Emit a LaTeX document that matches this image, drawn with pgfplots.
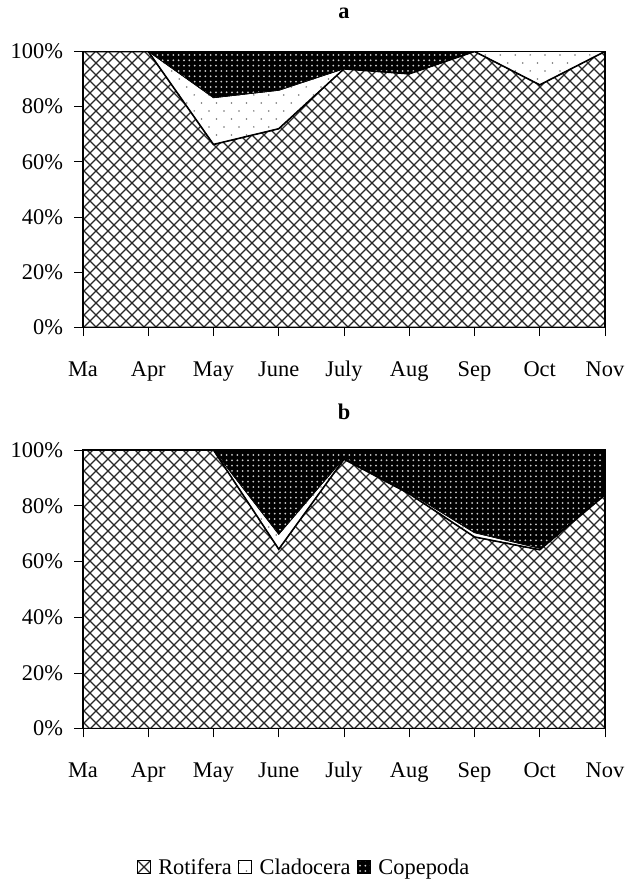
\documentclass[border=0pt]{standalone}
\usepackage{fontspec}
\setmainfont{Liberation Serif}
\usepackage{pgfplots}
\usepackage{pgfplotstable}
\pgfplotsset{compat=1.18}
\usetikzlibrary{patterns}

% diagonal crosshatch (Rotifera)
\pgfdeclarepatternformonly{diagcross}{\pgfqpoint{-1pt}{-1pt}}{\pgfqpoint{10pt}{10pt}}{\pgfqpoint{9pt}{9pt}}{%
  \pgfsetlinewidth{0.85pt}%
  \pgfpathmoveto{\pgfqpoint{0pt}{0pt}}\pgfpathlineto{\pgfqpoint{9pt}{9pt}}%
  \pgfpathmoveto{\pgfqpoint{0pt}{9pt}}\pgfpathlineto{\pgfqpoint{9pt}{0pt}}%
  \pgfusepath{stroke}}
% sparse staggered dots (Cladocera)
\pgfdeclarepatternformonly{sparsedots}{\pgfqpoint{-1pt}{-1pt}}{\pgfqpoint{12pt}{13pt}}{\pgfqpoint{11.2pt}{12pt}}{%
  \pgfpathcircle{\pgfqpoint{0pt}{0pt}}{0.65pt}%
  \pgfpathcircle{\pgfqpoint{5.6pt}{6pt}}{0.65pt}%
  \pgfusepath{fill}}
% dense dots (Copepoda, on black)
\pgfdeclarepatternformonly{densedots}{\pgfqpoint{-1pt}{-1pt}}{\pgfqpoint{5pt}{5pt}}{\pgfqpoint{4pt}{4pt}}{%
  \pgfpathcircle{\pgfqpoint{2pt}{2pt}}{0.75pt}%
  \pgfusepath{fill}}

\pgfplotstableread{
x rot clad cop
0 100 0 0
1 100 0 0
2 66.3 16.9 16.8
3 72.0 13.9 14.1
4 93.7 0 6.3
5 91.9 0 8.1
6 100 0 0
7 87.9 12.1 0
8 100 0 0
}\dataA

\pgfplotstableread{
x rot clad cop
0 100 0 0
1 100 0 0
2 100 0 0
3 64.4 5.3 30.3
4 96.7 0.4 2.9
5 84.3 0.4 15.3
6 68.8 1.5 29.7
7 64.2 0.5 35.3
8 83.9 0 16.1
}\dataB

\pgfplotsset{
  panel/.style={
    scale only axis,
    width=391.5pt,
    xmin=0, xmax=8, ymin=0, ymax=100,
    xtick={0,...,8},
    xticklabels={Ma,Apr,May,June,July,Aug,Sep,Oct,Nov},
    ytick={0,20,40,60,80,100},
    yticklabels={0\%,20\%,40\%,60\%,80\%,100\%},
    tick align=outside,
    tick pos=left,
    major tick length=6.5pt,
    tick style={black, line width=0.6pt},
    axis line style={line width=0.9pt},
    axis on top,
    stack plots=y,
    font=\fontsize{16.8pt}{20pt}\selectfont,
    xticklabel style={anchor=base, yshift=-30pt},
    yticklabel style={anchor=east, xshift=-5pt},
    title style={at={(0.5,1)}, anchor=center, yshift=22.5pt, font=\fontsize{16.8pt}{20pt}\selectfont\bfseries},
  },
  rotstyle/.style={draw=black, line width=1.2pt, pattern=diagcross, pattern color=black!85},
  cladstyle/.style={draw=black, line width=0.4pt, fill=white, postaction={pattern=sparsedots, pattern color=black!55}},
  copstyle/.style={draw=black, line width=0.4pt, fill=black, postaction={pattern=densedots, pattern color=white!80!black}},
}

\begin{document}
\begin{tikzpicture}
\useasboundingbox (0,0) rectangle (471pt,-659.25pt);

\begin{axis}[panel, height=207pt, at={(62.25pt,-38.6pt)}, anchor=north west, title={a}]
\addplot[rotstyle] table[x=x,y=rot]{\dataA} \closedcycle;
\addplot[cladstyle] table[x=x,y=clad]{\dataA} \closedcycle;
\addplot[copstyle] table[x=x,y=cop]{\dataA} \closedcycle;
\end{axis}

\begin{axis}[panel, height=209pt, at={(62.25pt,-337.5pt)}, anchor=north west, title={b},
  legend style={at={(0.423,-0.498)}, anchor=center, draw=none, fill=none,
    legend columns=3, font=\fontsize{16.8pt}{20pt}\selectfont,
    /tikz/every even column/.append style={column sep=4pt},
    /tikz/every odd column/.append style={column sep=5pt},
    inner sep=0pt, nodes={inner sep=1pt}},
  legend image code/.code={\draw[#1, line width=0.5pt] (0pt,-4.5pt) rectangle (9.5pt,5pt);},
]
\addplot[rotstyle] table[x=x,y=rot]{\dataB} \closedcycle;
\addplot[cladstyle] table[x=x,y=clad]{\dataB} \closedcycle;
\addplot[copstyle] table[x=x,y=cop]{\dataB} \closedcycle;
\legend{Rotifera,Cladocera,Copepoda}
\end{axis}
\end{tikzpicture}
\end{document}
